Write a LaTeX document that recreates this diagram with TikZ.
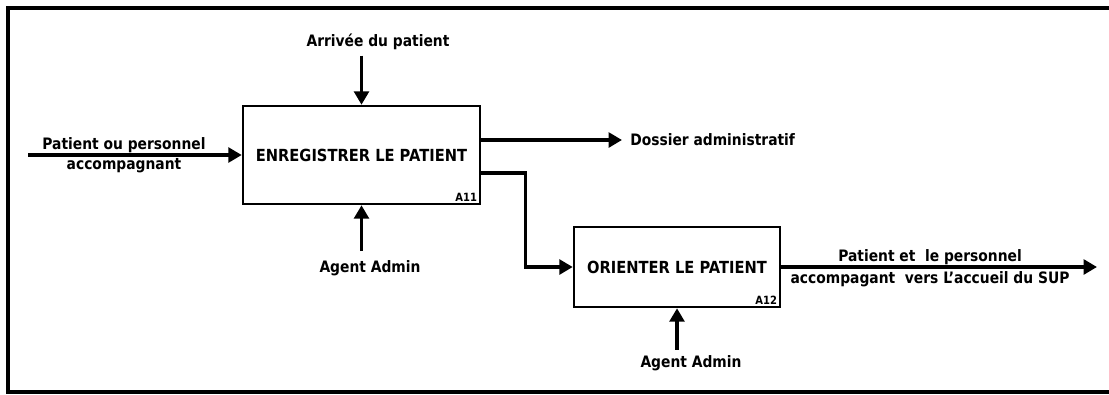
\documentclass[tikz,border=0pt]{standalone}
\usepackage{fontspec}
\setmainfont{DejaVu Sans}[FakeStretch=0.88]
\usetikzlibrary{arrows.meta,positioning}

\begin{document}
\begin{tikzpicture}[x=0.75pt,y=-0.75pt,
    box/.style={rectangle, draw, line width=1.9pt, font=\bfseries\fontsize{12.5}{14}\selectfont, inner sep=0pt},
    lbl/.style={font=\bfseries\fontsize{11.8}{15}\selectfont, inner sep=0pt, align=center},
    code/.style={font=\bfseries\fontsize{8.5}{9}\selectfont, inner sep=0pt, anchor=south east},
    arrow/.style={line width=2.6pt, -{Triangle[length=10pt,width=11pt]}}]

    \useasboundingbox (0,0) rectangle (1109,394);
    % frame
    \draw [line width=2.4pt] (1109,8) -- (8,8) -- (8,392) -- (1109,392);

    % Boxes
    \node [box, minimum width=177.75pt, minimum height=73.5pt] (enreg) at (361.5,155) {ENREGISTRER LE PATIENT};
    \node [box, minimum width=154.5pt, minimum height=60pt] (orient) at (677,267) {ORIENTER LE PATIENT};
    \node [code] (a11) at ([shift={(-3pt,3pt)}]enreg.south east) {A11};
    \node [code] (a12) at ([shift={(-3pt,3pt)}]orient.south east) {A12};

    % Labels
    \node [lbl] (arrivee) at (378,42) {Arrivée du patient};
    \node [lbl] (entree) at (124,155) {Patient ou personnel\\accompagnant};
    \node [lbl, anchor=west] (dossier) at (630,140) {Dossier administratif};
    \node [lbl] (admA) at (370,268) {Agent Admin};
    \node [lbl] (admB) at (691,363) {Agent Admin};
    \node [lbl, font=\bfseries\fontsize{11.8}{16.5}\selectfont] (sortie) at (930,268) {Patient et \ le personnel\\accompagant \ vers L'accueil du SUP};
    \coordinate (src) at (28,155);
    \coordinate (dst) at (1097,267);

    % Arrows
    \draw [arrow] (src) -- (enreg.west);
    \draw [arrow] ([yshift=-4pt]arrivee.south -| enreg.north) -- (enreg.north);
    \draw [arrow] (enreg.east |- dossier) -- ([xshift=-6pt]dossier.west);
    \draw [arrow] ([yshift=-13.5pt]enreg.east) -| ([xshift=-35.25pt]orient.west) -- (orient.west);
    \draw [arrow] ([yshift=6.75pt]admA.north -| enreg.south) -- (enreg.south);
    \draw [arrow] (orient.east) -- (dst);
    \draw [arrow] ([yshift=4pt]admB.north -| orient.south) -- (orient.south);

\end{tikzpicture}
\end{document}
